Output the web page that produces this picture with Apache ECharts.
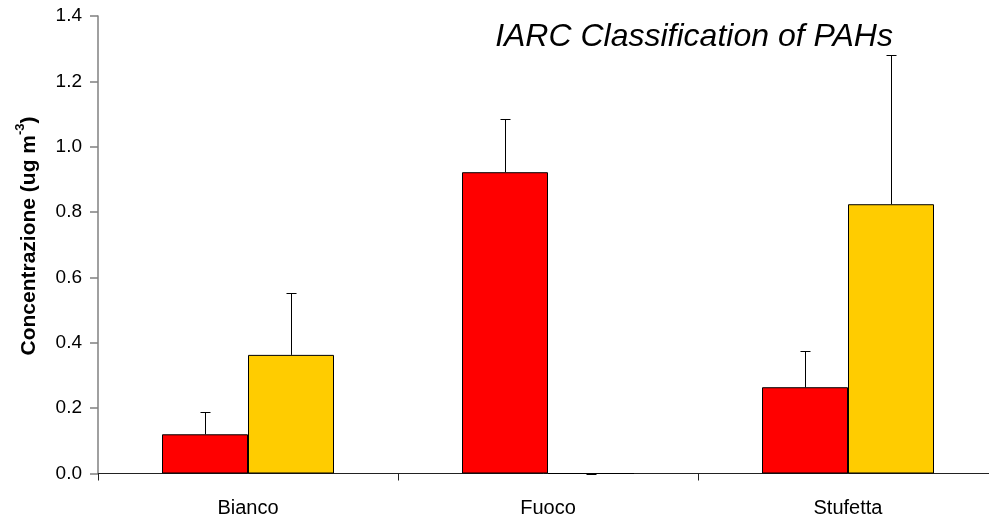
<!DOCTYPE html>
<html>
<head>
<meta charset="utf-8">
<script src="https://cdn.jsdelivr.net/npm/echarts@6/dist/echarts.min.js"></script>
<style>html,body{margin:0;padding:0;background:#fff;overflow:hidden}#c{width:989px;height:519px}</style>
</head>
<body>
<div id="c"></div>
<script>
var categories = ['Bianco', 'Fuoco', 'Stufetta'];
var redValues = [0.12, 0.922, 0.264];
var redErrTop = [0.189, 1.085, 0.375];
var yellowValues = [0.363, 0, 0.824];
var yellowErrTop = [0.552, 0, 1.28];
var yTicks = [0, 0.2, 0.4, 0.6, 0.8, 1.0, 1.2, 1.4];

var chart = echarts.init(document.getElementById('c'));
var FONT = 'Liberation Sans, Arial, sans-serif';
var BAR_W = 86;

function errData(vals, tops) {
  return vals.map(function (v, i) { return [i, v, tops[i]]; });
}
function errRender(offset) {
  return function (params, api) {
    var base = api.coord([api.value(0), api.value(1)]);
    var top = api.coord([api.value(0), api.value(2)]);
    var x = Math.round(base[0] + offset) + 0.5;
    var yt = Math.round(top[1]) + 0.5;
    var capHalf = 5;
    return {
      type: 'group',
      children: [
        { type: 'line', shape: { x1: x, y1: base[1], x2: x, y2: yt }, style: { stroke: '#000', lineWidth: 1 } },
        { type: 'line', shape: { x1: x - capHalf, y1: yt, x2: x + capHalf, y2: yt }, style: { stroke: '#000', lineWidth: 1 } }
      ]
    };
  };
}

chart.setOption({
  backgroundColor: '#fff',
  animation: false,
  grid: { left: 98, width: 900, top: 16, bottom: 45.5, containLabel: false, outerBoundsMode: 'none' },
  xAxis: {
    type: 'category',
    data: categories,
    axisLine: { lineStyle: { color: '#222', width: 1 } },
    axisTick: { show: true, length: 7, lineStyle: { color: '#222' } },
    axisLabel: { fontFamily: FONT, fontSize: 20, color: '#000', margin: 35, verticalAlign: 'middle' },
    splitLine: { show: false }
  },
  yAxis: {
    type: 'value',
    min: yTicks[0],
    max: yTicks[yTicks.length - 1],
    interval: 0.2,
    axisLine: { show: true, lineStyle: { color: '#808080', width: 1.5 } },
    axisTick: { show: true, length: 8, lineStyle: { color: '#808080', width: 1.5 } },
    axisLabel: { fontFamily: FONT, fontSize: 19, color: '#000', margin: 16, formatter: function (v) { return v.toFixed(1); } },
    splitLine: { show: false }
  },
  series: [
    {
      type: 'bar', data: redValues, barWidth: BAR_W, barGap: '0%',
      itemStyle: { color: '#FF0000', borderColor: '#000', borderWidth: 1 }
    },
    {
      type: 'bar', data: yellowValues, barWidth: BAR_W, barGap: '0%',
      itemStyle: { color: '#FFCC00', borderColor: '#000', borderWidth: 1 }
    },
    {
      type: 'custom', data: errData(redValues, redErrTop), renderItem: errRender(-BAR_W / 2),
      encode: { x: 0, y: [1, 2] }, z: 5, clip: false
    },
    {
      type: 'custom', data: errData(yellowValues, yellowErrTop), renderItem: errRender(BAR_W / 2),
      encode: { x: 0, y: [1, 2] }, z: 5, clip: false
    }
  ],
  graphic: [
    {
      type: 'text', x: 694, y: 37,
      style: {
        text: 'IARC Classification of PAHs', font: 'italic 32px ' + FONT,
        fill: '#000', align: 'center', verticalAlign: 'middle'
      }
    },
    {
      type: 'text', x: 27, y: 236, rotation: Math.PI / 2,
      style: {
        text: '{b|Concentrazione (ug m}{s|-3}{b|)}',
        align: 'center', verticalAlign: 'middle',
        rich: {
          b: { font: 'bold 21px ' + FONT, fill: '#000', lineHeight: 26, verticalAlign: 'bottom' },
          s: { font: 'bold 13px ' + FONT, fill: '#000', lineHeight: 26, verticalAlign: 'top' }
        }
      }
    }
  ]
});
</script>
</body>
</html>
